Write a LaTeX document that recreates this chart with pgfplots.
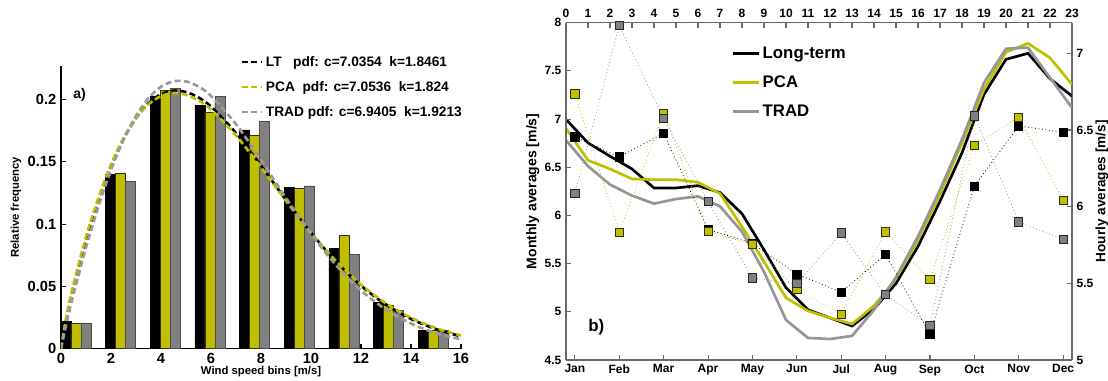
\documentclass[border=0pt]{standalone}
\usepackage{pgfplots}
\pgfplotsset{compat=1.18}
\usepackage{fontspec}
\setmainfont{Liberation Sans}
\definecolor{ylw}{RGB}{191,191,0}
\definecolor{gbar}{RGB}{128,128,128}
\definecolor{gline}{RGB}{150,150,150}
\definecolor{gdash}{RGB}{155,155,155}
\definecolor{frm}{RGB}{105,105,105}
\definecolor{ylwedge}{RGB}{50,50,0}

\begin{document}
\begin{tikzpicture}
\path[use as bounding box] (0,0) rectangle (831pt,285pt);

% ---------------- panel a) ----------------
\begin{axis}[
  at={(45.75pt,23.6pt)}, anchor=south west, scale only axis,
  width=300pt, height=211.9pt,
  xmin=0, xmax=16, ymin=0, ymax=0.227,
  axis x line*=bottom, axis y line*=left,
  axis line style={black, line width=0.8pt},
  tick align=inside, major tick length=3.5pt,
  tick style={black, line width=0.8pt},
  xtick={0,2,4,6,8,10,12,14,16}, xticklabels={0,2,4,6,8,10,12,14,16},
  ytick={0,0.05,0.1,0.15,0.2}, yticklabels={0,0.05,0.1,0.15,0.2},
  tick label style={font=\bfseries\fontsize{11}{11}\selectfont},
  xlabel={Wind speed bins [m/s]}, ylabel={Relative frequency},
  label style={font=\bfseries\fontsize{8.5}{9}\selectfont},
  xlabel style={yshift=5pt},
  ylabel style={yshift=-2pt},
  legend style={draw=none, fill=none, at={(axis description cs:0.445,1.05)}, anchor=north west,
     font=\bfseries\fontsize{10.3}{11}\selectfont, row sep=5.8pt, inner sep=1pt},
  legend cell align=left,
  legend image code/.code={\draw[#1] (0pt,0pt) -- (15pt,0pt);},
]
\addplot[ybar, bar width=0.4, bar shift=0pt, fill=black, draw=black, line width=0.4pt, forget plot]
 coordinates {(0.2,0.0219) (1.986,0.1400) (3.771,0.2030) (5.557,0.1956) (7.343,0.1757) (9.129,0.1294) (10.914,0.0804) (12.7,0.0370) (14.486,0.0147)};
\addplot[ybar, bar width=0.4, bar shift=0pt, fill=ylw, draw=ylwedge, line width=0.4pt, forget plot]
 coordinates {(0.6,0.0201) (2.386,0.1409) (4.171,0.2076) (5.957,0.1900) (7.743,0.1717) (9.529,0.1286) (11.314,0.0911) (13.1,0.0350) (14.886,0.0145)};
\addplot[ybar, bar width=0.4, bar shift=0pt, fill=gbar, draw=black!70, line width=0.4pt, forget plot]
 coordinates {(1.0,0.0206) (2.786,0.1340) (4.571,0.2090) (6.357,0.2023) (8.143,0.1825) (9.929,0.1307) (11.714,0.0756) (13.5,0.0305) (15.286,0.0148)};

\addplot[black, line width=2pt, dash pattern=on 4.5pt off 2.5pt, smooth] coordinates {
 (0,0) (0.25,0.0278) (0.5,0.0497) (1,0.0875) (1.5,0.1196) (2,0.1466) (2.5,0.1684) (3,0.1852) (3.5,0.1970)
 (4,0.2043) (4.5,0.2071) (5,0.2061) (5.5,0.2017) (6,0.1944) (7,0.1732) (8,0.1470) (9,0.1194) (10,0.0931)
 (11,0.0698) (12,0.0505) (13,0.0353) (14,0.0238) (15,0.0156) (16,0.0098)};
\addlegendentry{LT\ \ \ pdf: c=7.0354\ \ k=1.8461}
\addplot[ylw, line width=2pt, dash pattern=on 4.5pt off 2.5pt, smooth] coordinates {
 (0,0) (0.25,0.0294) (0.5,0.0517) (1,0.0898) (1.5,0.1215) (2,0.1479) (2.5,0.1690) (3,0.1850) (3.5,0.1962)
 (4,0.2028) (4.5,0.2053) (5,0.2039) (5.5,0.1993) (6,0.1920) (7,0.1712) (8,0.1456) (9,0.1187) (10,0.0930)
 (11,0.0703) (12,0.0513) (13,0.0362) (14,0.0247) (15,0.0164) (16,0.0105)};
\addlegendentry{PCA\ \ pdf: c=7.0536\ \ k=1.824}
\addplot[gdash, line width=2pt, dash pattern=on 4.5pt off 2.5pt, smooth] coordinates {
 (0,0) (0.25,0.0231) (0.5,0.0435) (1,0.0810) (1.5,0.1143) (2,0.1434) (2.5,0.1677) (3,0.1870) (3.5,0.2012)
 (4,0.2103) (4.5,0.2147) (5,0.2146) (5.5,0.2105) (6,0.2030) (7,0.1803) (8,0.1515) (9,0.1209) (10,0.0921)
 (11,0.0670) (12,0.0467) (13,0.0313) (14,0.0201) (15,0.0124) (16,0.0074)};
\addlegendentry{TRAD\ pdf: c=6.9405\ \ k=1.9213}
\node[anchor=west, inner sep=0pt, font=\bfseries\fontsize{10.5}{11}\selectfont] at (axis description cs:0.03,0.897) {a)};
\end{axis}

% ---------------- panel b) hourly (top / right) ----------------
\begin{axis}[
  at={(424.5pt,15pt)}, anchor=south west, scale only axis,
  width=379.5pt, height=253pt,
  xmin=0, xmax=23, ymin=5, ymax=7.2,
  axis x line*=top, axis y line*=right,
  axis line style={frm, line width=0.8pt},
  tick align=inside, major tick length=4pt,
  tick style={frm, line width=0.8pt},
  xtick={0,1,2,3,4,5,6,7,8,9,10,11,12,13,14,15,16,17,18,19,20,21,22,23},
  xticklabels={0,1,2,3,4,5,6,7,8,9,10,11,12,13,14,15,16,17,18,19,20,21,22,23},
  ytick={5,5.5,6,6.5,7}, yticklabels={5,5.5,6,6.5,7},
  tick label style={font=\bfseries\fontsize{9}{9}\selectfont},
  ylabel={Hourly averages [m/s]},
  ylabel style={font=\bfseries\fontsize{10.2}{11}\selectfont, at={(axis description cs:1.059,0.5)}, anchor=center},
  legend style={draw=none, fill=none, at={(axis description cs:0.325,0.942)}, anchor=north west,
     font=\bfseries\fontsize{12.6}{13}\selectfont, row sep=7.6pt, inner sep=1pt},
  legend cell align=left,
  legend image code/.code={\draw[#1] (0pt,0pt) -- (19pt,0pt);},
]
\addplot[black, line width=2pt] coordinates {
 (0,6.569) (1,6.416) (2,6.329) (3,6.246) (4,6.122) (5,6.122) (6,6.137) (7,6.092) (8,5.954) (9,5.719)
 (10,5.471) (11,5.327) (12,5.275) (13,5.222) (14,5.333) (15,5.500) (16,5.741) (17,6.035) (18,6.351)
 (19,6.732) (20,6.961) (21,7.000) (22,6.835) (23,6.721)};
\addlegendentry{Long-term}
\addplot[ylw, line width=2pt] coordinates {
 (0,6.510) (1,6.303) (2,6.246) (3,6.181) (4,6.176) (5,6.176) (6,6.159) (7,6.085) (8,5.869) (9,5.641)
 (10,5.405) (11,5.320) (12,5.275) (13,5.235) (14,5.353) (15,5.530) (16,5.784) (17,6.078) (18,6.416)
 (19,6.765) (20,7.008) (21,7.065) (22,6.971) (23,6.797)};
\addlegendentry{PCA}
\addplot[gline, line width=2pt] coordinates {
 (0,6.433) (1,6.264) (2,6.144) (3,6.072) (4,6.020) (5,6.050) (6,6.067) (7,6.002) (8,5.837) (9,5.575)
 (10,5.261) (11,5.144) (12,5.137) (13,5.157) (14,5.327) (15,5.540) (16,5.806) (17,6.111) (18,6.438)
 (19,6.808) (20,7.030) (21,7.037) (22,6.841) (23,6.645)};
\addlegendentry{TRAD}
\end{axis}

% ---------------- panel b) monthly (bottom / left) ----------------
\begin{axis}[
  at={(424.5pt,15pt)}, anchor=south west, scale only axis,
  width=379.5pt, height=253pt,
  xmin=0.8, xmax=12.2, ymin=4.5, ymax=8,
  axis x line*=bottom, axis y line*=left,
  axis line style={frm, line width=0.8pt},
  tick align=inside, major tick length=4pt,
  tick style={frm, line width=0.8pt},
  xtick={1,2,3,4,5,6,7,8,9,10,11,12},
  xticklabels={Jan,Feb,Mar,Apr,May,Jun,Jul,Aug,Sep,Oct,Nov,Dec},
  ytick={4.5,5,5.5,6,6.5,7,7.5,8}, yticklabels={4.5,5,5.5,6,6.5,7,7.5,8},
  tick label style={font=\bfseries\fontsize{9}{9}\selectfont},
  ylabel={Monthly averages [m/s]},
  ylabel style={font=\bfseries\fontsize{10.5}{11}\selectfont, yshift=-3pt},
]
\addplot[black, dotted, line width=0.6pt, mark=square*, mark size=3.1pt,
  mark options={solid, fill=black, draw=black, line width=0.6pt}] coordinates {
 (1,6.816) (2,6.607) (3,6.854) (4,5.854) (5,5.710) (6,5.392) (7,5.205) (8,5.594) (9,4.768) (10,6.305) (11,6.930) (12,6.861)};
\addplot[ylw, dotted, line width=0.6pt, mark=square*, mark size=3.1pt,
  mark options={solid, fill=ylw, draw=ylwedge, line width=0.6pt}] coordinates {
 (1,7.260) (2,5.826) (3,7.060) (4,5.837) (5,5.698) (6,5.229) (7,4.976) (8,5.830) (9,5.333) (10,6.729) (11,7.017) (12,6.159)};
\addplot[gline, dotted, line width=0.6pt, mark=square*, mark size=3.1pt,
  mark options={solid, fill=gbar, draw=black!85, line width=0.6pt}] coordinates {
 (1,6.226) (2,7.972) (3,7.007) (4,6.143) (5,5.351) (6,5.292) (7,5.820) (8,5.177) (9,4.857) (10,7.034) (11,5.934) (12,5.750)};
\node[anchor=west, inner sep=0pt, font=\bfseries\fontsize{12.7}{13}\selectfont] at (axis description cs:0.0435,0.098) {b)};
\end{axis}
\end{tikzpicture}
\end{document}
